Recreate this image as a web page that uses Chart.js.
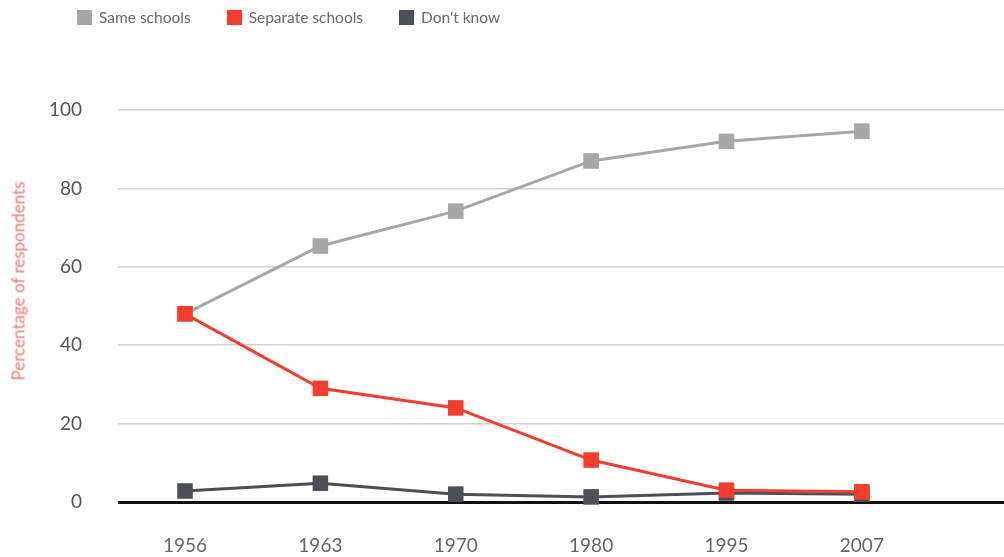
<!DOCTYPE html>
<html>
<head>
<meta charset="utf-8">
<script src="https://cdn.jsdelivr.net/npm/chart.js@4"></script>
<style>
  html, body { margin: 0; padding: 0; background: #fff; overflow: hidden; }
  #wrap { position: relative; width: 1004px; height: 557px; }
  #chart { display: block; }
  #legend {
    position: absolute; left: 77px; top: 8px;
    display: flex; gap: 36px;
    font-family: Lato, 'Open Sans', sans-serif; font-size: 15.5px; color: #6a6a6a;
  }
  .item { display: flex; align-items: center; }
  .swatch { width: 15px; height: 15px; margin-right: 7px; }
  #ytitle {
    position: absolute; left: 18px; top: 281px;
    transform: translate(-50%, -50%) rotate(-90deg);
    white-space: nowrap;
    font-family: Lato, 'Open Sans', sans-serif; font-size: 17px; color: #f7786c;
  }
</style>
</head>
<body>
<div id="wrap">
  <canvas id="chart" width="1004" height="557"></canvas>
  <div id="legend"></div>
  <div id="ytitle">Percentage of respondents</div>
</div>
<script>
// Survey years (evenly spaced on the axis)
const YEARS = ['1956', '1963', '1970', '1980', '1995', '2007'];

// Percentage of respondents per answer
const SAME_SCHOOLS     = [48, 65.3, 74.2, 87, 92, 94.6];
const SEPARATE_SCHOOLS = [48, 29, 24, 10.7, 3, 2.6];
const DONT_KNOW        = [2.8, 4.8, 2, 1.3, 2.3, 2];

const Y_TICKS = [0, 20, 40, 60, 80, 100];

const SERIES = [
  { label: 'Same schools',     data: SAME_SCHOOLS,     color: '#a7a7a9', order: 2 },
  { label: 'Separate schools', data: SEPARATE_SCHOOLS, color: '#f43d2f', order: 0 },
  { label: "Don't know",       data: DONT_KNOW,        color: '#4b4f57', order: 1 },
];

const FONT = "Lato, 'Open Sans', sans-serif";

const datasets = SERIES.map(s => ({
  label: s.label,
  data: s.data.map((v, i) => ({ x: i, y: v })),
  borderColor: s.color,
  backgroundColor: s.color,
  borderWidth: 3,
  pointStyle: 'rect',
  pointRadius: 11,
  pointBorderWidth: 0,
  pointBackgroundColor: s.color,
  order: s.order,
  tension: 0,
  clip: false,
}));

new Chart(document.getElementById('chart'), {
  type: 'line',
  data: { datasets },
  options: {
    responsive: false,
    animation: false,
    // no extra room for the big markers: the plot runs to the right edge
    layout: { autoPadding: false, padding: { top: 110, right: 0, bottom: 0, left: 0 } },
    scales: {
      x: {
        type: 'linear',
        min: -0.495,
        max: 6.05,
        grid: { display: false },
        border: { display: false },
        afterBuildTicks: scale => { scale.ticks = YEARS.map((_, i) => ({ value: i })); },
        afterFit: scale => {
          scale.height = 55;
          scale.paddingLeft = 0;
          scale.paddingRight = 0;
        },
        ticks: {
          padding: 24,
          color: '#666',
          font: { family: FONT, size: 19 },
          callback: v => YEARS[v],
          maxRotation: 0,
        },
      },
      y: {
        min: 0,
        max: 100,
        afterBuildTicks: scale => { scale.ticks = Y_TICKS.map(v => ({ value: v })); },
        afterFit: scale => { scale.width = 118; },
        grid: {
          drawTicks: false,
          color: ctx => ctx.tick && ctx.tick.value === 0 ? '#111' : '#d2d2d2',
          lineWidth: ctx => ctx.tick && ctx.tick.value === 0 ? 3 : 1.5,
        },
        border: { display: false },
        ticks: {
          padding: 36,
          color: '#555',
          font: { family: FONT, size: 19 },
        },
      },
    },
    plugins: {
      legend: { display: false },
      tooltip: { enabled: false },
    },
  },
});

// Legend row above the plot
const legendEl = document.getElementById('legend');
SERIES.forEach(s => {
  const item = document.createElement('div');
  item.className = 'item';
  item.innerHTML = `<span class="swatch" style="background:${s.color}"></span><span>${s.label}</span>`;
  legendEl.appendChild(item);
});
</script>
</body>
</html>
